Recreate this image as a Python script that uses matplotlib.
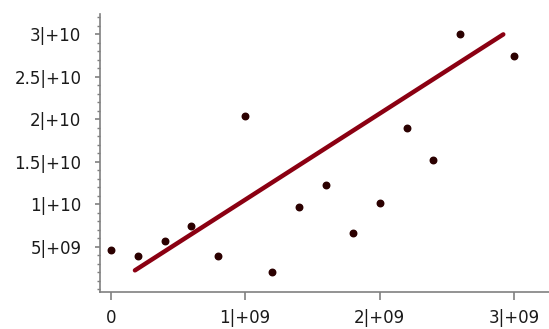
import numpy as np
import matplotlib.pyplot as plt
from matplotlib.ticker import MultipleLocator

# scatter data
x_vals = [0.0e9, 0.2e9, 0.4e9, 0.6e9, 0.8e9, 1.0e9, 1.2e9, 1.4e9,
          1.6e9, 1.8e9, 2.0e9, 2.2e9, 2.4e9, 2.6e9, 3.0e9]
y_vals = [4.6e9, 3.9e9, 5.7e9, 7.4e9, 3.9e9, 20.4e9, 2.0e9, 9.7e9,
          12.3e9, 6.6e9, 10.1e9, 19.0e9, 15.2e9, 30.0e9, 27.4e9]

# fitted line endpoints
line_x = [0.18e9, 2.92e9]
line_y = [2.2e9, 30.0e9]

x_ticks = [0, 1e9, 2e9, 3e9]
x_labels = ['0', '1|+09', '2|+09', '3|+09']
y_ticks = [5e9, 1e10, 1.5e10, 2e10, 2.5e10, 3e10]
y_labels = ['5|+09', '1|+10', '1.5|+10', '2|+10', '2.5|+10', '3|+10']

fig = plt.figure(figsize=(5.49, 3.29), dpi=100)
ax = fig.add_axes([100 / 549, 1 - 292 / 329, 1 - 100 / 549, (292 - 14) / 329])

ax.plot(line_x, line_y, color='#8b0012', linewidth=3.2, solid_capstyle='round', zorder=2)
ax.scatter(x_vals, y_vals, s=22, color='#2b0000', zorder=3)

ax.set_xlim(-0.08e9, 3.26e9)
ax.set_ylim(-0.35e9, 32.4e9)

ax.set_xticks(x_ticks)
ax.set_xticklabels(x_labels)
ax.set_yticks(y_ticks)
ax.set_yticklabels(y_labels)
ax.yaxis.set_minor_locator(MultipleLocator(1e9))

for s in ['top', 'right']:
    ax.spines[s].set_visible(False)
for s in ['left', 'bottom']:
    ax.spines[s].set_color('#808080')
    ax.spines[s].set_linewidth(1.2)

ax.tick_params(axis='both', which='major', width=1.2, color='#808080',
               labelsize=12, labelcolor='#1a1a1a')
ax.tick_params(axis='y', which='major', length=3.5, pad=10)
ax.tick_params(axis='x', which='major', length=6, pad=6)
ax.tick_params(axis='y', which='minor', length=2.5, width=1, color='#808080')

plt.savefig('out.png', dpi=100)
